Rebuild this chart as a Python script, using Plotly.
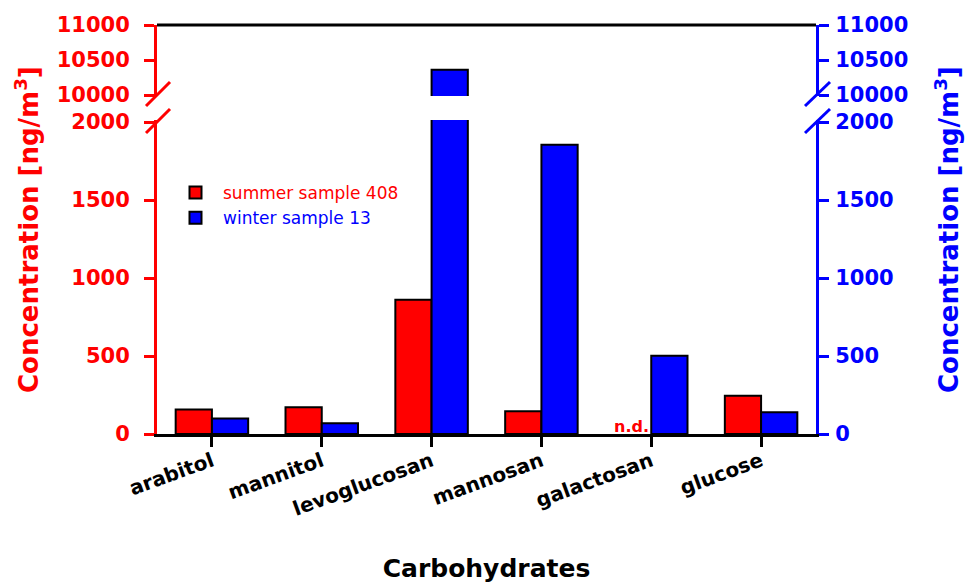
import plotly.graph_objects as go

# ---------------- data ----------------
categories = ["arabitol", "mannitol", "levoglucosan", "mannosan", "galactosan", "glucose"]
summer_408 = [157, 172, 861, 146, None, 246]      # galactosan: n.d.
winter_13 = [99, 69, 10360, 1854, 502, 139]
series_names = ["summer sample 408", "winter sample 13"]
lower_ticks = [0, 500, 1000, 1500, 2000]
upper_ticks = [10000, 10500, 11000]
lower_range = [0, 2013]
upper_range = [9986, 11000]

# ---------------- layout geometry ----------------
W_FIG, H_FIG = 965, 583
L, R, T, B = 157, 816, 25, 434
PW, PH = R - L, B - T


def px(x):
    return (x - L) / PW


def py(y):
    return (B - y) / PH


FONT = "DejaVu Sans"
RED, BLUE, BLACK = "#ff0000", "#0000ff", "#000000"

fig = go.Figure()
# summer -> left (red) axes, winter -> right (blue) axes; lower and upper panel of the broken axis
for xa, ya_s, ya_w, show in [("x", "y", "y3", True), ("x2", "y2", "y4", False)]:
    fig.add_trace(go.Bar(
        x=categories, y=summer_408, name=f"<span style='color:{RED}'>{series_names[0]}</span>",
        marker=dict(color=RED, line=dict(color=BLACK, width=2)),
        xaxis=xa, yaxis=ya_s, showlegend=show, legendgroup="s",
        offsetgroup="s", alignmentgroup="a"))
    fig.add_trace(go.Bar(
        x=categories, y=winter_13, name=f"<span style='color:{BLUE}'>{series_names[1]}</span>",
        marker=dict(color=BLUE, line=dict(color=BLACK, width=2)),
        xaxis=xa, yaxis=ya_w, showlegend=show, legendgroup="w",
        offsetgroup="w", alignmentgroup="a"))


def yax(color, domain, rng, ticks, side="left", **kw):
    d = dict(domain=domain, range=rng, tickvals=ticks, ticktext=[str(t) for t in ticks],
             showline=True, linecolor=color, linewidth=3, ticks="outside", ticklen=10,
             tickwidth=3, tickcolor=color, showgrid=False, zeroline=False, side=side,
             automargin=False,
             tickfont=dict(family=FONT, size=21, color=color, weight="bold"))
    d.update(kw)
    return d


d_low = [0, py(120)]
d_up = [py(96), 1]

fig.update_layout(
    width=W_FIG, height=H_FIG,
    margin=dict(l=L, r=W_FIG - R, t=T, b=H_FIG - B),
    paper_bgcolor="white", plot_bgcolor="white",
    barmode="group", bargap=0.34, bargroupgap=0,
    xaxis=dict(anchor="y", range=[-0.5, 5.5], showline=True, linecolor=BLACK, linewidth=3,
               ticks="outside", ticklen=10, tickwidth=3, tickcolor=BLACK, tickangle=-20,
               showgrid=False, automargin=False, ticklabelstandoff=-5,
               tickfont=dict(family=FONT, size=20, color=BLACK, weight="bold"),
               title=dict(text="Carbohydrates", standoff=42,
                          font=dict(family=FONT, size=25, color=BLACK, weight="bold"))),
    xaxis2=dict(anchor="y2", matches="x", visible=False, range=[-0.5, 5.5], automargin=False),
    yaxis=yax(RED, d_low, lower_range, lower_ticks, anchor="x", ticklabelstandoff=10),
    yaxis2=yax(RED, d_up, upper_range, upper_ticks, anchor="x2", ticklabelstandoff=10),
    yaxis3=yax(BLUE, d_low, lower_range, lower_ticks, side="right", anchor="x",
               overlaying="y", ticklabelstandoff=2),
    yaxis4=yax(BLUE, d_up, upper_range, upper_ticks, side="right", anchor="x2",
               overlaying="y2", ticklabelstandoff=2),
    legend=dict(x=px(168), y=py(175), xanchor="left", yanchor="top", bgcolor="rgba(0,0,0,0)",
                font=dict(family=FONT, size=17), tracegroupgap=0, itemwidth=45),
    showlegend=True,
)

# top frame line
shapes = [dict(type="line", xref="paper", yref="paper", x0=0, x1=1, y0=1, y1=1,
               line=dict(color=BLACK, width=3))]
# axis break marks
for (x0, x1, col) in [(146, 170, RED), (805, 830, BLUE)]:
    for (y0, y1) in [(106, 82), (133, 109)]:
        shapes.append(dict(type="line", xref="paper", yref="paper",
                           x0=px(x0), x1=px(x1), y0=py(y0), y1=py(y1),
                           line=dict(color=col, width=3)))
fig.update_layout(shapes=shapes)

title_txt = "Concentration [ng/m<sup>3</sup>]"
fig.add_annotation(x=px(27), y=py(230), xref="paper", yref="paper", text=title_txt,
                   textangle=-90, showarrow=False, xanchor="center", yanchor="middle",
                   font=dict(family=FONT, size=26, color=RED, weight="bold"))
fig.add_annotation(x=px(947), y=py(230), xref="paper", yref="paper", text=title_txt,
                   textangle=-90, showarrow=False, xanchor="center", yanchor="middle",
                   font=dict(family=FONT, size=26, color=BLUE, weight="bold"))
fig.add_annotation(x="galactosan", y=0, xref="x", yref="y", text="n.d.", xshift=-20, yshift=-4,
                   showarrow=False, yanchor="bottom",
                   font=dict(family=FONT, size=16, color=RED, weight="bold"))

fig.write_html("out.html")
